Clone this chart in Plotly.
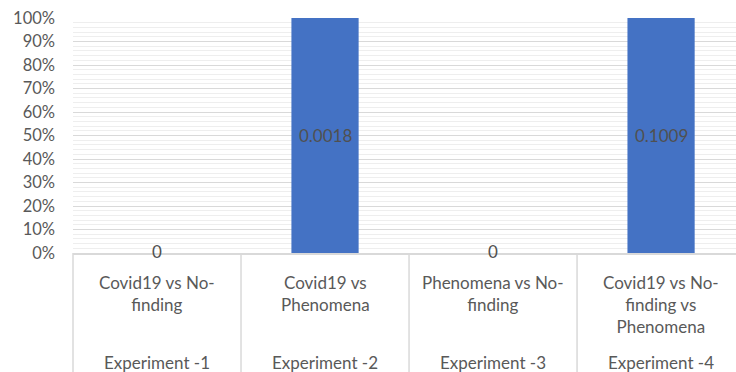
import plotly.graph_objects as go

# Experiment data
experiments = ["Experiment -1", "Experiment -2", "Experiment -3", "Experiment -4"]
comparisons = [
    "Covid19 vs No-<br>finding",
    "Covid19 vs<br>Phenomena",
    "Phenomena vs No-<br>finding",
    "Covid19 vs No-<br>finding vs<br>Phenomena",
]
values = [0, 0.0018, 0, 0.1009]
value_labels = ["0", "0.0018", "0", "0.1009"]

# 100% stacked: each column shows its share of the category total (single series)
shares = [1.0 if v > 0 else 0.0 for v in values]

x = list(range(len(experiments)))
FONT = "Lato, Calibri, Arial, sans-serif"
TXT = "#595959"

fig = go.Figure(
    go.Bar(
        x=x,
        y=shares,
        width=0.4,
        marker=dict(color="#4472C4", line=dict(width=0)),
        hoverinfo="skip",
    )
)

x_range = [-0.5, 3.446]

annotations = []
for i in x:
    # value label in the middle of the column
    annotations.append(dict(
        x=i, y=shares[i] / 2, xref="x", yref="y",
        text=value_labels[i], showarrow=False,
        font=dict(family=FONT, size=17, color="#505050"),
        yshift=2 if shares[i] == 0 else 0,
    ))
    # comparison label
    annotations.append(dict(
        x=i, y=0, xref="x", yref="paper",
        text=comparisons[i], showarrow=False,
        xanchor="center", yanchor="top", yshift=-17,
        font=dict(family=FONT, size=17, color=TXT),
    ))
    # experiment label
    annotations.append(dict(
        x=i, y=0, xref="x", yref="paper",
        text=experiments[i], showarrow=False,
        xanchor="center", yanchor="middle", yshift=-109,
        font=dict(family=FONT, size=17, color=TXT),
    ))

shapes = []
for b in [-0.5, 0.5, 1.5, 2.5, 3.5]:
    if b > x_range[1]:
        continue
    px = (b - x_range[0]) / (x_range[1] - x_range[0])
    shapes.append(dict(
        type="line", xref="paper", yref="paper",
        x0=px, x1=px, y0=0, y1=-0.52,
        line=dict(color="#d9d9d9", width=1.5),
    ))

fig.update_layout(
    width=736, height=372,
    margin=dict(l=73, r=0, t=18, b=119),
    paper_bgcolor="white", plot_bgcolor="white",
    showlegend=False,
    annotations=annotations,
    shapes=shapes,
    xaxis=dict(
        range=x_range, showticklabels=False, showgrid=False, zeroline=False,
        showline=True, linecolor="#d9d9d9", linewidth=1.5, ticks="",
    ),
    yaxis=dict(
        range=[0, 1], dtick=0.1, tickformat=".0%",
        showgrid=True, gridcolor="#d9d9d9", gridwidth=1.2,
        minor=dict(dtick=0.02, showgrid=True, gridcolor="#eeeeee", gridwidth=1),
        zeroline=False, showline=False, ticks="",
        ticklabelstandoff=17,
        tickfont=dict(family=FONT, size=16.5, color=TXT),
    ),
)

fig.write_html("out.html")
